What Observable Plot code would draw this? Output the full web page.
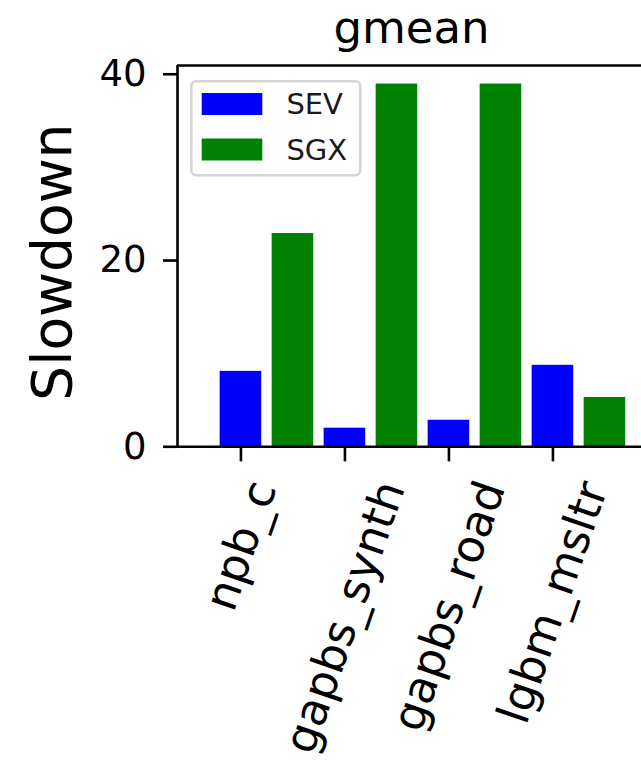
<!DOCTYPE html>
<html><head><meta charset="utf-8">
<script src="https://cdn.jsdelivr.net/npm/d3@7"></script>
<script src="https://cdn.jsdelivr.net/npm/@observablehq/plot@0.6"></script>
<style>body{margin:0;background:#fff;} svg{font-family:"DejaVu Sans";}</style>
</head><body><div id="chart"></div>
<script>
const categories = ["npb_c", "gapbs_synth", "gapbs_road", "lgbm_msltr"];
const series = ["SEV", "SGX"];
const sevValues = [8.1, 2.0, 2.85, 8.75];
const sgxValues = [22.9, 38.95, 38.95, 5.3];
const yTicks = [0, 20, 40];
const colors = ["#0000ff", "#008000"];
const title = "gmean";
const yLabel = "Slowdown";

const offsets = {SEV: 0, SGX: 0.5};
const barWidth = 0.4;
const valuesBySeries = {SEV: sevValues, SGX: sgxValues};
const data = categories.flatMap((c, i) => series.map(s => ({category: c, index: i, series: s, value: valuesBySeries[s][i]})));

const xDomain = [-0.61, 3.89];
const yDomain = [0, 40.94];
const sw = 2.6;

const plot = Plot.plot({
  width: 641, height: 771,
  marginLeft: 177, marginRight: -4, marginTop: 65, marginBottom: 324.7,
  style: {fontFamily: "DejaVu Sans", background: "white", color: "black"},
  x: {domain: xDomain},
  y: {domain: yDomain},
  color: {domain: series, range: colors},
  marks: [
    Plot.rectY(data, {
      x1: d => d.index + offsets[d.series] - barWidth / 2,
      x2: d => d.index + offsets[d.series] + barWidth / 2,
      y1: d => 0, y2: "value", fill: "series"
    }),
    Plot.axisY({ticks: yTicks, tickSize: 14, tickPadding: 17, fontSize: 37, strokeWidth: sw, label: null}),
    Plot.axisX({ticks: categories.map((c, i) => i), tickFormat: i => categories[i], tickSize: 15, tickRotate: -71, fontSize: 45, strokeWidth: sw, label: null, tickPadding: 10}),
    Plot.ruleX([xDomain[0]], {strokeWidth: sw}),
    Plot.ruleY([yDomain[0], yDomain[1]], {strokeWidth: sw}),
    Plot.text([title], {frameAnchor: "top", dy: -37.4, lineAnchor: "middle", textAnchor: "middle", fontSize: 45}),
    Plot.text([yLabel], {frameAnchor: "left", dx: -124.6, dy: 6, rotate: -90, fontSize: 55, lineAnchor: "middle", textAnchor: "middle"})
  ]
});
document.getElementById("chart").append(plot);

// Center rotated x tick labels under ticks (matplotlib-like bbox alignment)
const svgRect = plot.getBoundingClientRect();
const xs = plot.scale("x");
const texts = plot.querySelectorAll('g[aria-label="x-axis tick label"] text');
texts.forEach((t, i) => {
  const r = t.getBoundingClientRect();
  const cx = r.left + r.width / 2 - svgRect.left;
  const top = r.top - svgRect.top;
  const dx = xs.apply(i) - cx, dy = 474 - top;
  const tr = t.getAttribute("transform") || "";
  t.setAttribute("transform", `translate(${dx},${dy}) ${tr}`);
});

// Legend inside the axes, upper left
const color = plot.scale("color");
const lg = d3.select(plot).append("g").attr("aria-label", "legend").attr("text-anchor", "start");
lg.append("rect").attr("x", 191.3).attr("y", 81.3).attr("width", 169).attr("height", 94)
  .attr("rx", 5).attr("fill", "white").attr("fill-opacity", 0.85).attr("stroke", "#d6d6d6").attr("stroke-width", sw);
series.forEach((s, i) => {
  const yTop = 93 + i * 45.5;
  lg.append("rect").attr("x", 201.7).attr("y", yTop).attr("width", 60.6).attr("height", 22).attr("fill", color.apply(s));
  lg.append("text").attr("x", 286.4).attr("y", yTop + 11).attr("dy", "0.36em").attr("font-size", 29)
    .attr("text-anchor", "start").attr("fill", "#1a1a1a").attr("font-family", "DejaVu Sans").text(s);
});
</script>
</body></html>
